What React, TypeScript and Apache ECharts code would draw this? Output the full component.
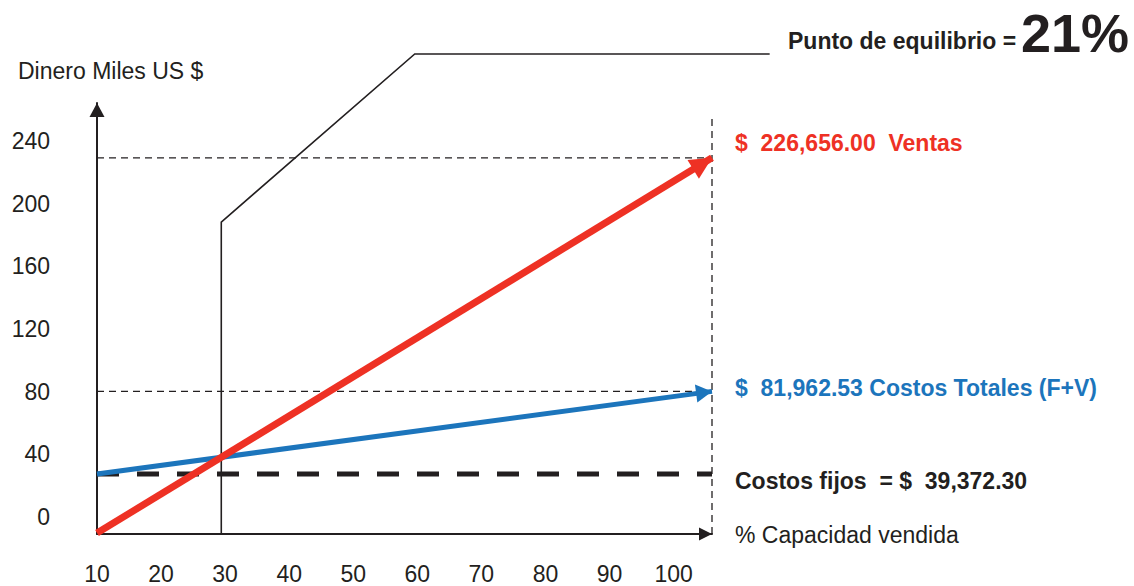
import React, { useEffect, useRef } from "react";
import * as echarts from "echarts";

// ---- data (y in thousands of US$, x in % capacity) ----
const xTickValues = [10, 20, 30, 40, 50, 60, 70, 80, 90, 100];
const yTickValues = [0, 40, 80, 120, 160, 200, 240];
const ventasLine: number[][] = [[10, 0.6], [106, 240]];
const costosTotalesLine: number[][] = [[10, 38.3], [106, 91]];
const costosFijosLine: number[][] = [[10, 38.3], [106, 38.3]];
const ventasGuide: number[][] = [[10, 240], [106, 240]];
const totalesGuide: number[][] = [[10, 91], [106, 91]];
const capacidadGuide: number[][] = [[106, 0], [106, 266]];
const equilibrioCallout: number[][] = [[29.4, 0], [29.4, 199], [59.6, 306.3], [115, 306.3]];

const yTitle = "Dinero Miles US $";
const xTitle = "% Capacidad vendida";
const equilibrioText = "Punto de equilibrio =";
const equilibrioValue = "21%";
const ventasLabel = "$  226,656.00  Ventas";
const totalesLabel = "$  81,962.53 Costos Totales (F+V)";
const fijosLabel = "Costos fijos  = $  39,372.30";

const RED = "#ee3124";
const BLUE = "#1c75bc";
const INK = "#231f20";
const FONT = "'Liberation Sans', Arial, Helvetica, sans-serif";

export default function App() {
  const ref = useRef<HTMLDivElement>(null);
  useEffect(() => {
    if (!ref.current) return;
    const chart = echarts.init(ref.current, null, { renderer: "svg" });
    const text = (t: string, x: number, y: number, size: number, bold: boolean, fill: string) => ({
      type: "text",
      x,
      y,
      silent: true,
      style: {
        text: t,
        fontSize: size,
        fontWeight: bold ? "bold" : "normal",
        fontFamily: FONT,
        fill,
        align: "left",
        verticalAlign: "middle",
      },
    });
    chart.setOption({
      animation: false,
      backgroundColor: "#ffffff",
      grid: { left: 97, top: 103, width: 615, height: 431, containLabel: false },
      xAxis: {
        type: "value",
        min: 10,
        max: 106,
        interval: 10,
        splitLine: { show: false },
        axisTick: { show: false },
        axisLine: {
          show: true,
          onZero: false,
          symbol: ["none", "triangle"],
          symbolSize: [13, 13],
          symbolOffset: [0, -6.5],
          lineStyle: { color: INK, width: 2 },
        },
        axisLabel: {
          formatter: (v: number) => (xTickValues.includes(v) ? String(v) : ""),
          fontSize: 23,
          fontFamily: FONT,
          color: INK,
          margin: 28,
        },
      },
      yAxis: {
        type: "value",
        min: 0,
        max: 275,
        interval: 40,
        splitLine: { show: false },
        axisTick: { show: false },
        axisLine: {
          show: true,
          onZero: false,
          symbol: ["none", "triangle"],
          symbolSize: [15, 14],
          symbolOffset: [0, -7],
          lineStyle: { color: INK, width: 2 },
        },
        axisLabel: {
          formatter: (v: number) => (yTickValues.includes(v) ? String(v) : ""),
          fontSize: 23,
          fontFamily: FONT,
          color: INK,
          margin: 47,
          verticalAlign: "bottom",
          lineHeight: 34,
        },
      },
      series: [
        {
          type: "line",
          data: ventasGuide,
          symbol: "none",
          silent: true,
          lineStyle: { color: INK, width: 1.3, type: [7, 5] },
        },
        {
          type: "line",
          data: totalesGuide,
          symbol: "none",
          silent: true,
          lineStyle: { color: INK, width: 1.3, type: [7, 5] },
        },
        {
          type: "line",
          data: capacidadGuide,
          symbol: "none",
          silent: true,
          clip: false,
          lineStyle: { color: INK, width: 1.3, type: [7, 5] },
        },
        {
          type: "line",
          data: costosFijosLine,
          symbol: "none",
          silent: true,
          lineStyle: { color: INK, width: 5, type: [22, 18] },
        },
        {
          type: "line",
          data: [],
          silent: true,
          markLine: {
            silent: true,
            symbol: ["none", "triangle"],
            symbolSize: [18, 16],
            symbolOffset: [0, [0, 8]],
            label: { show: false },
            lineStyle: { color: BLUE, width: 5, type: "solid" },
            data: [[{ coord: costosTotalesLine[0] }, { coord: costosTotalesLine[1] }]],
          },
        },
        {
          type: "line",
          data: [],
          silent: true,
          markLine: {
            silent: true,
            symbol: ["none", "triangle"],
            symbolSize: [22, 22],
            symbolOffset: [0, [0, 11]],
            label: { show: false },
            lineStyle: { color: RED, width: 7, type: "solid" },
            data: [[{ coord: ventasLine[0] }, { coord: ventasLine[1] }]],
          },
        },
      ],
    });
    // callout drawn through the chart's own scales
    const calloutPts = equilibrioCallout.map((p) => chart.convertToPixel({ gridIndex: 0 }, p) as number[]);
    chart.setOption({
      graphic: [
        {
          type: "polyline",
          silent: true,
          z: 1,
          shape: { points: calloutPts },
          style: { stroke: INK, lineWidth: 1.6, fill: "none" },
        },
        text(yTitle, 18, 71, 23, false, INK),
        text(xTitle, 735, 535, 23, false, INK),
        text(equilibrioText, 788, 41, 23, true, INK),
        text(equilibrioValue, 1021, 33, 54, true, INK),
        text(ventasLabel, 735, 143, 23, true, RED),
        text(totalesLabel, 735, 388, 23, true, BLUE),
        text(fijosLabel, 735, 481, 23, true, INK),
      ],
    });
    return () => chart.dispose();
  }, []);
  return (
    <div
      ref={ref}
      style={{ position: "absolute", left: 0, top: 0, width: 1134, height: 586 }}
    />
  );
}
